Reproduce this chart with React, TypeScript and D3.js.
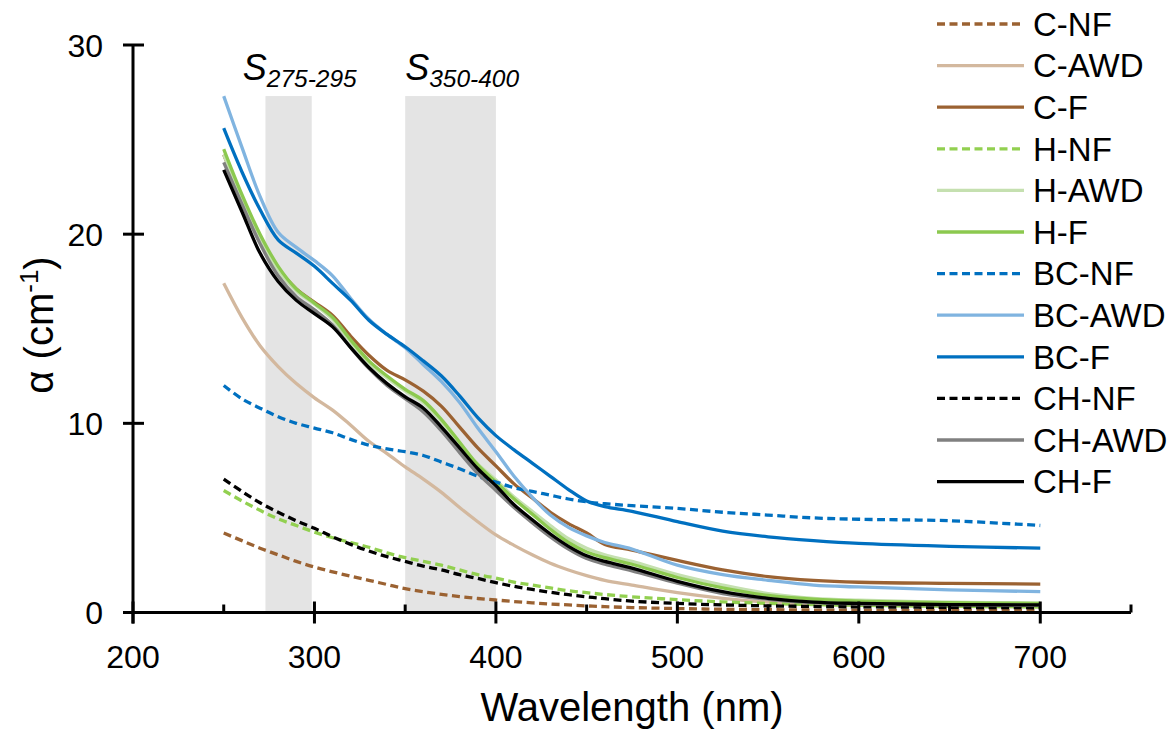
import React from 'react';
import * as d3 from 'd3';

const wavelengths = [250, 260, 270, 280, 290, 300, 310, 320, 330, 340, 350, 360, 370, 380, 390, 400, 410, 420, 430, 440, 450, 460, 475, 500, 525, 550, 575, 600, 650, 700];

const cNF = [4.2, 3.8, 3.4, 3.05, 2.7, 2.4, 2.15, 1.92, 1.7, 1.48, 1.26, 1.1, 0.96, 0.84, 0.74, 0.66, 0.58, 0.51, 0.45, 0.4, 0.35, 0.31, 0.26, 0.21, 0.17, 0.15, 0.13, 0.12, 0.11, 0.1];
const cAWD = [17.4, 15.6, 14.1, 13.0, 12.1, 11.35, 10.7, 9.9, 9.05, 8.4, 7.7, 7.05, 6.35, 5.55, 4.8, 4.1, 3.55, 3.05, 2.6, 2.25, 1.95, 1.7, 1.45, 1.05, 0.75, 0.55, 0.45, 0.4, 0.33, 0.3];
const cF = [24.2, 21.9, 19.9, 18.2, 17.1, 16.4, 15.7, 14.6, 13.6, 12.8, 12.3, 11.7, 10.9, 9.8, 8.7, 7.75, 6.8, 6.05, 5.3, 4.7, 4.2, 3.6, 3.3, 2.75, 2.25, 1.9, 1.7, 1.6, 1.54, 1.5];
const hNF = [6.45, 5.9, 5.4, 4.95, 4.6, 4.25, 3.95, 3.7, 3.45, 3.15, 2.9, 2.7, 2.5, 2.25, 2.0, 1.82, 1.6, 1.45, 1.3, 1.15, 1.05, 0.95, 0.83, 0.68, 0.56, 0.48, 0.42, 0.38, 0.33, 0.3];
const hAWD = [24.2, 21.9, 19.8, 18.1, 17.0, 16.3, 15.5, 14.3, 13.2, 12.4, 11.7, 11.1, 10.1, 8.95, 7.85, 7.0, 6.1, 5.35, 4.6, 3.9, 3.4, 3.05, 2.7, 2.0, 1.45, 1.0, 0.75, 0.65, 0.55, 0.5];
const hF = [24.5, 22.1, 20.0, 18.3, 17.1, 16.35, 15.6, 14.4, 13.3, 12.5, 11.8, 11.2, 10.2, 9.0, 7.8, 6.9, 6.0, 5.2, 4.4, 3.7, 3.2, 2.9, 2.55, 1.85, 1.3, 0.9, 0.7, 0.6, 0.52, 0.48];
const bcNF = [12.0, 11.3, 10.8, 10.35, 10.0, 9.75, 9.5, 9.15, 8.85, 8.65, 8.5, 8.3, 7.95, 7.6, 7.2, 6.9, 6.6, 6.4, 6.2, 6.0, 5.85, 5.75, 5.65, 5.5, 5.3, 5.15, 5.0, 4.93, 4.85, 4.6];
const bcAWD = [27.3, 24.6, 22.0, 20.1, 19.3, 18.6, 17.8, 16.6, 15.5, 14.7, 14.0, 13.1, 12.2, 11.1, 9.75, 8.5, 7.2, 6.1, 5.15, 4.5, 4.05, 3.7, 3.35, 2.5, 2.0, 1.7, 1.45, 1.35, 1.2, 1.1];
const bcF = [25.6, 23.3, 21.3, 19.7, 19.0, 18.3, 17.4, 16.5, 15.45, 14.7, 14.05, 13.3, 12.5, 11.45, 10.3, 9.35, 8.6, 7.9, 7.2, 6.5, 5.9, 5.6, 5.35, 4.8, 4.3, 4.0, 3.8, 3.65, 3.5, 3.4];
const chNF = [7.05, 6.4, 5.8, 5.3, 4.85, 4.45, 4.0, 3.6, 3.25, 2.95, 2.7, 2.45, 2.25, 2.0, 1.8, 1.58, 1.38, 1.22, 1.07, 0.94, 0.83, 0.73, 0.6, 0.48, 0.4, 0.35, 0.32, 0.3, 0.27, 0.25];
const chAWD = [23.8, 21.6, 19.5, 17.8, 16.7, 16.0, 15.2, 14.0, 12.9, 12.0, 11.3, 10.6, 9.6, 8.45, 7.35, 6.45, 5.55, 4.75, 4.0, 3.35, 2.85, 2.55, 2.2, 1.55, 1.0, 0.7, 0.52, 0.45, 0.4, 0.38];
const chF = [23.4, 21.2, 19.0, 17.5, 16.5, 15.8, 15.1, 14.0, 12.95, 12.1, 11.4, 10.8, 9.8, 8.7, 7.6, 6.7, 5.7, 4.9, 4.15, 3.5, 3.0, 2.7, 2.35, 1.65, 1.1, 0.75, 0.55, 0.48, 0.42, 0.4];

const seriesNames = ['C-NF', 'C-AWD', 'C-F', 'H-NF', 'H-AWD', 'H-F', 'BC-NF', 'BC-AWD', 'BC-F', 'CH-NF', 'CH-AWD', 'CH-F'];
const seriesValues = [cNF, cAWD, cF, hNF, hAWD, hF, bcNF, bcAWD, bcF, chNF, chAWD, chF];

const xTicks = [200, 300, 400, 500, 600, 700];
const xMinorTicks = [250, 350, 450, 550, 650, 750];
const yTicks = [0, 10, 20, 30];

const bandStarts = [273, 350];
const bandEnds = [298.5, 400];
const bandTop = 27.3;
const bandSubs = ['275-295', '350-400'];
const bandLabelX = [260.5, 350];

const styles: Record<string, { color: string; dash?: string }> = {
  'C-NF': { color: '#9b6232', dash: '8,4.5' },
  'C-AWD': { color: '#d3b89e' },
  'C-F': { color: '#9b6232' },
  'H-NF': { color: '#92d050', dash: '8,4.5' },
  'H-AWD': { color: '#c5e0b0' },
  'H-F': { color: '#8cc94f' },
  'BC-NF': { color: '#0070c0', dash: '8,4.5' },
  'BC-AWD': { color: '#80b4e0' },
  'BC-F': { color: '#0070c0' },
  'CH-NF': { color: '#000000', dash: '8,4.5' },
  'CH-AWD': { color: '#808080' },
  'CH-F': { color: '#000000' },
};

const W = 1174;
const H = 733;
const FONT = "'Liberation Sans', Arial, sans-serif";

export default function App() {
  const x = d3.scaleLinear().domain([200, 750]).range([133, 1131]);
  const y = d3.scaleLinear().domain([0, 30]).range([612.5, 45]);
  const line = d3
    .line<[number, number]>()
    .x((d) => x(d[0]))
    .y((d) => y(d[1]))
    .curve(d3.curveCatmullRom.alpha(0.5));

  const legendX0 = 937;
  const legendX1 = 1024;
  const legendY0 = 24;
  const legendStep = 41.6;

  return (
    <svg width={W} height={H} style={{ position: 'absolute', left: 0, top: 0, background: '#fff' }} fontFamily={FONT}>
      <rect x={0} y={0} width={W} height={H} fill="#fff" />
      {bandStarts.map((b, i) => (
        <rect key={'band' + i} x={x(b)} y={y(bandTop)} width={x(bandEnds[i]) - x(b)} height={y(0) - y(bandTop)} fill="#e4e4e4" />
      ))}
      {bandSubs.map((s, i) => (
        <text key={'bl' + i} x={x(bandLabelX[i])} y={80} fontStyle="italic" fontSize={36} fill="#000">
          S
          <tspan fontSize={24.5} dy={7}>{s}</tspan>
        </text>
      ))}
      {seriesNames.map((name, i) => {
        const pts = wavelengths.map((w, j) => [w, seriesValues[i][j]] as [number, number]);
        const st = styles[name];
        return (
          <path key={name} d={line(pts) || ''} fill="none" stroke={st.color} strokeWidth={3.3} strokeDasharray={st.dash} strokeLinejoin="round" />
        );
      })}
      <line x1={x(200)} x2={x(750)} y1={y(0)} y2={y(0)} stroke="#000" strokeWidth={3} />
      <line x1={x(200)} x2={x(200)} y1={y(30)} y2={y(0) + 11} stroke="#000" strokeWidth={3} />
      {xTicks.map((t) => (
        <line key={'xt' + t} x1={x(t)} x2={x(t)} y1={y(0) - 11} y2={y(0) + 11} stroke="#000" strokeWidth={3} />
      ))}
      {xMinorTicks.map((t) => (
        <line key={'xm' + t} x1={x(t)} x2={x(t)} y1={y(0) - 8} y2={y(0)} stroke="#000" strokeWidth={3} />
      ))}
      {yTicks.map((t) => (
        <line key={'yt' + t} x1={x(200) - 10} x2={x(200) + 11} y1={y(t)} y2={y(t)} stroke="#000" strokeWidth={3} />
      ))}
      {xTicks.map((t) => (
        <text key={'xl' + t} x={x(t)} y={668} textAnchor="middle" fontSize={32} fill="#000">
          {t}
        </text>
      ))}
      {yTicks.map((t) => (
        <text key={'yl' + t} x={103} y={y(t) + 11.5} textAnchor="end" fontSize={32} fill="#000">
          {t}
        </text>
      ))}
      <text x={(x(200) + x(750)) / 2} y={721} textAnchor="middle" fontSize={40} fill="#000">
        Wavelength (nm)
      </text>
      <text transform={`translate(53, 325) rotate(-90)`} textAnchor="middle" fontSize={40} fill="#000">
        α (cm<tspan fontSize={26} dy={-15}>-1</tspan>
        <tspan dy={15}>)</tspan>
      </text>
      {seriesNames.map((name, i) => {
        const st = styles[name];
        const cy = legendY0 + i * legendStep;
        return (
          <g key={'lg' + name}>
            <line x1={legendX0} x2={legendX1} y1={cy} y2={cy} stroke={st.color} strokeWidth={3.3} strokeDasharray={st.dash} />
            <text x={1033} y={cy + 11.8} fontSize={33} fill="#000">
              {name}
            </text>
          </g>
        );
      })}
    </svg>
  );
}
